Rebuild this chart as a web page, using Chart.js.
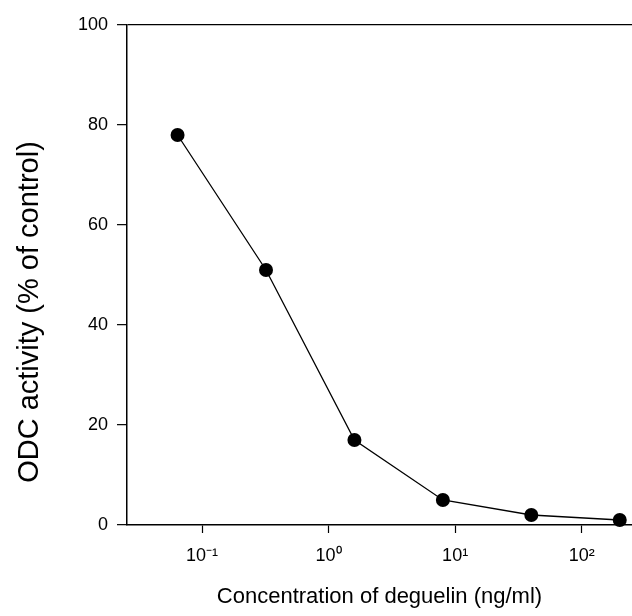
<!DOCTYPE html>
<html>
<head>
<meta charset="utf-8">
<script src="https://cdn.jsdelivr.net/npm/chart.js@4"></script>
<style>
    html, body { margin: 0; padding: 0; background: #fff; }
    #wrap { width: 632px; height: 616px; }
</style>
</head>
<body>
<div id="wrap"><canvas id="odcChart" width="632" height="616"></canvas></div>
<script>
// ── DATA ──
const concentrations = [0.064, 0.32, 1.6, 8, 40, 200];   // ng/ml
const odcActivity = [78, 51, 17, 5, 2, 1];                // % of control
const xTickValues = [0.1, 1, 10, 100];
const xTickLabels = ['10\u207B\u00B9', '10\u2070', '10\u00B9', '10\u00B2'];
const yTickValues = [0, 20, 40, 60, 80, 100];

const X_MIN = 0.0255;
const X_MAX = 250;
const FONT = '"Liberation Sans", Arial, sans-serif';
const Y_TITLE = 'ODC activity (% of control)';

// y title is drawn by hand: it sits lower than the axis centre and is set larger
const yTitlePlugin = {
    id: 'yTitle',
    afterDraw(chart) {
        const c = chart.ctx;
        c.save();
        c.translate(38, 312);
        c.rotate(-Math.PI / 2);
        c.fillStyle = '#000';
        c.font = '29px ' + FONT;
        c.textAlign = 'center';
        c.textBaseline = 'alphabetic';
        c.fillText(Y_TITLE, 0, 0);
        c.restore();
    }
};

// ── CHART ──
const ctx = document.getElementById('odcChart').getContext('2d');
const odcChart = new Chart(ctx, {
    type: 'line',
    data: {
        datasets: [{
            data: concentrations.map((c, i) => ({ x: c, y: odcActivity[i] })),
            borderColor: '#000',
            borderWidth: 1.3,
            backgroundColor: '#000',
            pointRadius: 7,
            pointBorderWidth: 0,
            tension: 0,
            clip: false
        }]
    },
    plugins: [yTitlePlugin],
    options: {
        responsive: false,
        animation: false,
        layout: { autoPadding: false, padding: { top: 25, right: 0, left: 0, bottom: 0 } },
        plugins: {
            legend: { display: false },
            tooltip: { enabled: false }
        },
        scales: {
            x: {
                type: 'logarithmic',
                min: X_MIN,
                max: X_MAX,
                afterBuildTicks: scale => {
                    scale.ticks = xTickValues.map(v => ({ value: v }));
                },
                afterFit: scale => { scale.height = 91; },
                border: { display: true, color: '#000', width: 1.5 },
                grid: {
                    drawOnChartArea: false,
                    drawTicks: true,
                    tickLength: 8,
                    tickColor: '#000',
                    tickWidth: 1.2
                },
                ticks: {
                    color: '#000',
                    font: { family: FONT, size: 18 },
                    padding: 12,
                    maxRotation: 0,
                    autoSkip: false,
                    callback: (value) => {
                        const i = xTickValues.indexOf(value);
                        return i >= 0 ? xTickLabels[i] : '';
                    }
                },
                title: {
                    display: true,
                    text: 'Concentration of deguelin (ng/ml)',
                    color: '#000',
                    font: { family: FONT, size: 22 },
                    padding: { top: 0, bottom: 6 }
                }
            },
            y: {
                min: 0,
                max: 100,
                afterBuildTicks: scale => {
                    scale.ticks = yTickValues.map(v => ({ value: v }));
                },
                afterFit: scale => { scale.width = 127; },
                border: { display: true, color: '#000', width: 1.5 },
                grid: {
                    // only the 100 line runs across as the top frame
                    color: c => (c.tick && c.tick.value === 100 ? '#000' : 'rgba(0,0,0,0)'),
                    lineWidth: 1.3,
                    drawTicks: true,
                    tickLength: 10,
                    tickColor: '#000',
                    tickWidth: 1.2
                },
                ticks: {
                    color: '#000',
                    font: { family: FONT, size: 18 },
                    padding: 9
                },
                title: { display: false }
            }
        }
    }
});
</script>
</body>
</html>
